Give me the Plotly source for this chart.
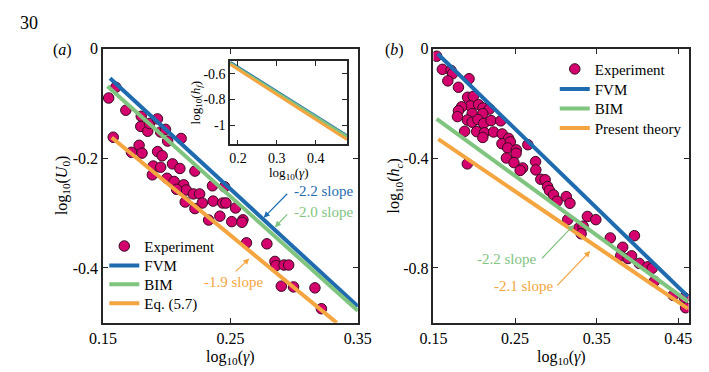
import plotly.graph_objects as go

# ---------------- data: panel (a) ----------------
a_exp_x = [0.1544, 0.1600, 0.1679, 0.1580, 0.1800, 0.1796, 0.1851, 0.1864, 0.1927, 0.1952,
           0.1990, 0.2007, 0.2113, 0.1783, 0.1723, 0.1806, 0.1928, 0.1964, 0.1894, 0.1952,
           0.2045, 0.2103, 0.2221, 0.1887, 0.2002, 0.2058, 0.2133, 0.2153, 0.2077, 0.2209,
           0.2258, 0.2359, 0.2454, 0.2364, 0.2439, 0.2465, 0.2279, 0.2145, 0.2221, 0.2540,
           0.2417, 0.2329, 0.2510, 0.2598, 0.2590, 0.2626, 0.2786, 0.2849, 0.2857, 0.2920,
           0.2957, 0.2899, 0.2995, 0.3163, 0.3214]
a_exp_y = [-0.0898, -0.0702, -0.1121, -0.1613, -0.1232, -0.1416, -0.1505, -0.1363, -0.1279, -0.1518,
           -0.1470, -0.1684, -0.1636, -0.1761, -0.1889, -0.1904, -0.1875, -0.1952, -0.2139, -0.2161,
           -0.2100, -0.2184, -0.2232, -0.2300, -0.2363, -0.2421, -0.2482, -0.2577, -0.2564, -0.2648,
           -0.2648, -0.2500, -0.2518, -0.2779, -0.2814, -0.2814, -0.2814, -0.2796, -0.2916, -0.2904,
           -0.3054, -0.3125, -0.3154, -0.3121, -0.3166, -0.3541, -0.3559, -0.3880, -0.3957, -0.3946,
           -0.3946, -0.4332, -0.4345, -0.4363, -0.4743]
a_fvm_x = [0.1555, 0.350]
a_fvm_y = [-0.0536, -0.470]
a_bim_x = [0.1535, 0.350]
a_bim_y = [-0.0684, -0.478]
a_eq_x = [0.1568, 0.3334]
a_eq_y = [-0.1618, -0.500]

# inset of panel (a)
in_x = [0.18, 0.48]
in_fvm = [-0.512, -1.083]
in_bim = [-0.518, -1.090]
in_eq = [-0.527, -1.112]

# ---------------- data: panel (b) ----------------
b_exp_x = [0.1539, 0.1609, 0.1715, 0.1733, 0.1676, 0.1936, 0.1806, 0.1918, 0.1989, 0.1951,
           0.1845, 0.1806, 0.1794, 0.2053, 0.2107, 0.2186, 0.1974, 0.2104, 0.1915, 0.1974,
           0.2045, 0.2115, 0.2206, 0.2324, 0.1882, 0.2029, 0.2124, 0.2104, 0.2236, 0.2342,
           0.2421, 0.2339, 0.2442, 0.2656, 0.2409, 0.2515, 0.2394, 0.2512, 0.2486, 0.2751,
           0.2592, 0.2562, 0.2754, 0.2815, 0.2868, 0.2898, 0.2921, 0.2971, 0.3015, 0.3127,
           0.3172, 0.3145, 0.3386, 0.3489, 0.3284, 0.3333, 0.3309, 0.3666, 0.3962, 0.3818,
           0.3794, 0.3884, 0.3927, 0.4021, 0.4124, 0.4180, 0.4206, 0.4436, 0.4574, 0.4589,
           0.1915]
b_exp_y = [-0.0271, -0.0750, -0.0789, -0.0911, -0.1171, -0.1093, -0.1404, -0.1768, -0.1736, -0.2082,
           -0.2118, -0.2261, -0.2475, -0.2039, -0.2161, -0.2200, -0.2368, -0.2368, -0.2600, -0.2679,
           -0.2582, -0.2725, -0.2618, -0.2629, -0.3011, -0.3021, -0.3064, -0.3236, -0.3036, -0.3107,
           -0.3271, -0.3464, -0.3396, -0.3500, -0.3618, -0.3689, -0.3986, -0.3814, -0.4154, -0.4118,
           -0.4350, -0.4439, -0.4421, -0.4761, -0.4779, -0.5029, -0.5171, -0.5332, -0.5564, -0.5393,
           -0.5636, -0.6236, -0.6118, -0.6236, -0.6529, -0.6475, -0.6750, -0.6904, -0.6821, -0.7243,
           -0.7557, -0.7654, -0.7557, -0.7832, -0.7957, -0.8011, -0.8486, -0.9000, -0.9082, -0.9450,
           -0.4200]
b_fvm_x = [0.1551, 0.4618]
b_fvm_y = [-0.0179, -0.9046]
b_bim_x = [0.1539, 0.4618]
b_bim_y = [-0.2557, -0.9225]
b_eq_x = [0.1559, 0.4618]
b_eq_y = [-0.3296, -0.9486]

# tick labels
a_xticks = [0.15, 0.25, 0.35]
a_yticks = [0, -0.2, -0.4]
b_xticks = [0.15, 0.25, 0.35, 0.45]
b_yticks = [0, -0.4, -0.8]
in_xticks = [0.2, 0.3, 0.4]
in_yticks = [-0.6, -0.8, -1]

# ---------------- style ----------------
FONT = "Liberation Serif"
MAG = "#d4006e"
BLUE = "#1f6bb0"
GREEN = "#7fc47f"
ORANGE = "#f5a540"
AX = "#262626"
W, H = 709, 372


def px_x(p):
    return p / W


def px_y(p):
    return 1 - p / H


def tick_text(vals):
    return ["%g" % v for v in vals]


fig = go.Figure()

exp_marker = dict(size=10.5, color=MAG, line=dict(color="#3a0a20", width=1))

# panel a
fig.add_trace(go.Scatter(x=a_exp_x, y=a_exp_y, mode="markers", marker=exp_marker,
                         name="Experiment", legend="legend", xaxis="x", yaxis="y"))
fig.add_trace(go.Scatter(x=a_fvm_x, y=a_fvm_y, mode="lines", line=dict(color=BLUE, width=4),
                         name="FVM", legend="legend2", xaxis="x", yaxis="y"))
fig.add_trace(go.Scatter(x=a_bim_x, y=a_bim_y, mode="lines", line=dict(color=GREEN, width=4),
                         name="BIM", legend="legend3", xaxis="x", yaxis="y"))
fig.add_trace(go.Scatter(x=a_eq_x, y=a_eq_y, mode="lines", line=dict(color=ORANGE, width=4),
                         name="Eq. (5.7)", legend="legend4", xaxis="x", yaxis="y"))

# inset
fig.add_trace(go.Scatter(x=in_x, y=in_fvm, mode="lines", line=dict(color=BLUE, width=3),
                         showlegend=False, xaxis="x3", yaxis="y3"))
fig.add_trace(go.Scatter(x=in_x, y=in_bim, mode="lines", line=dict(color=GREEN, width=3),
                         showlegend=False, xaxis="x3", yaxis="y3"))
fig.add_trace(go.Scatter(x=in_x, y=in_eq, mode="lines", line=dict(color=ORANGE, width=3),
                         showlegend=False, xaxis="x3", yaxis="y3"))

# panel b
fig.add_trace(go.Scatter(x=b_exp_x, y=b_exp_y, mode="markers", marker=exp_marker,
                         name="Experiment", legend="legend5", xaxis="x2", yaxis="y2"))
fig.add_trace(go.Scatter(x=b_fvm_x, y=b_fvm_y, mode="lines", line=dict(color=BLUE, width=4),
                         name="FVM", legend="legend6", xaxis="x2", yaxis="y2"))
fig.add_trace(go.Scatter(x=b_bim_x, y=b_bim_y, mode="lines", line=dict(color=GREEN, width=4),
                         name="BIM", legend="legend7", xaxis="x2", yaxis="y2"))
fig.add_trace(go.Scatter(x=b_eq_x, y=b_eq_y, mode="lines", line=dict(color=ORANGE, width=4),
                         name="Present theory", legend="legend8", xaxis="x2", yaxis="y2"))


def axis_common(size=16):
    return dict(showgrid=False, zeroline=False, showline=True, linecolor=AX, linewidth=1.5,
                mirror="ticks", ticks="inside", ticklen=5, tickwidth=1.2, tickcolor=AX,
                tickfont=dict(family=FONT, size=size, color="black"))


def leg(xpx, ypx):
    return dict(x=px_x(xpx), y=px_y(ypx), xanchor="left", yanchor="middle",
                bgcolor="rgba(0,0,0,0)", itemwidth=30,
                font=dict(family=FONT, size=15, color="black"))


fig.update_layout(
    width=W, height=H, margin=dict(l=0, r=0, t=0, b=0),
    paper_bgcolor="white", plot_bgcolor="white",
    font=dict(family=FONT, color="black"),
    xaxis=dict(domain=[px_x(92.7), px_x(358)], range=[0.15, 0.35], anchor="y",
               tickvals=a_xticks, ticktext=tick_text(a_xticks), **axis_common()),
    yaxis=dict(domain=[px_y(321.7), px_y(41.7)], range=[-0.5, 0], anchor="x",
               tickvals=a_yticks, ticktext=tick_text(a_yticks), **axis_common()),
    xaxis2=dict(domain=[px_x(436.7), px_x(702.3)], range=[0.15, 0.4625], anchor="y2",
                tickvals=b_xticks, ticktext=tick_text(b_xticks), **axis_common()),
    yaxis2=dict(domain=[px_y(321.7), px_y(41.7)], range=[-1.0, 0], anchor="x2",
                tickvals=b_yticks, ticktext=tick_text(b_yticks), **axis_common()),
    xaxis3=dict(domain=[px_x(225), px_x(346.7)], range=[0.18, 0.48], anchor="y3",
                tickvals=in_xticks, ticktext=tick_text(in_xticks), **axis_common(14)),
    yaxis3=dict(domain=[px_y(139.3), px_y(54)], range=[-1.15, -0.5], anchor="x3",
                tickvals=in_yticks, ticktext=tick_text(in_yticks), **axis_common(14)),
    legend=leg(94, 243.5),
    legend2=leg(94, 263.5),
    legend3=leg(94, 282.5),
    legend4=leg(94, 302),
    legend5=leg(563, 62.5),
    legend6=leg(563, 83),
    legend7=leg(563, 103),
    legend8=leg(563, 123),
)

ann = []


def txt(x, y, text, size=15, color="black", xanchor="center", yanchor="middle", angle=0):
    ann.append(dict(x=px_x(x), y=px_y(y), xref="paper", yref="paper", text=text,
                    showarrow=False, xanchor=xanchor, yanchor=yanchor, textangle=angle,
                    font=dict(family=FONT, size=size, color=color)))


txt(16, 15, "30", size=18)
txt(51, 43, "(<i>a</i>)", size=16)
txt(396, 43, "(<i>b</i>)", size=16)
txt(50, 182, "log<sub>10</sub>(<i>U</i><sub>0</sub>)", size=16, angle=-90)
txt(396, 182, "log<sub>10</sub>(<i>h<sub>c</sub></i>)", size=16, angle=-90)
txt(225, 357, "log<sub>10</sub>(<i>γ</i>)", size=16)
txt(569.5, 357, "log<sub>10</sub>(<i>γ</i>)", size=16)
txt(190, 97, "log<sub>10</sub>(<i>h<sub>f</sub></i>)", size=13, angle=-90)
txt(286, 169.5, "log<sub>10</sub>(<i>γ</i>)", size=13)


def data_text(xr, yr, x, y, text, color, xanchor="left"):
    ann.append(dict(x=x, y=y, xref=xr, yref=yr, text=text, showarrow=False,
                    xanchor=xanchor, yanchor="middle",
                    font=dict(family=FONT, size=15, color=color)))


def arrow(xr, yr, x0, y0, x1, y1, color):
    ann.append(dict(x=x1, y=y1, ax=x0, ay=y0, xref=xr, yref=yr, axref=xr, ayref=yr,
                    text="", showarrow=True, arrowhead=2, arrowsize=1, arrowwidth=1.2,
                    arrowcolor=color))


# panel a slope notes
data_text("x", "y", 0.2985, -0.2589, "-2.2 slope", BLUE)
data_text("x", "y", 0.2985, -0.2975, "-2.0 slope", GREEN)
data_text("x", "y", 0.2529, -0.4255, "-1.9 slope", ORANGE, xanchor="center")
arrow("x", "y", 0.2957, -0.2618, 0.2761, -0.3082, BLUE)
arrow("x", "y", 0.2957, -0.2993, 0.2849, -0.3255, GREEN)
arrow("x", "y", 0.2530, -0.4089, 0.2648, -0.3827, ORANGE)

# panel b slope notes
data_text("x2", "y2", 0.2398, -0.7654, "-2.2 slope", GREEN, xanchor="center")
data_text("x2", "y2", 0.2609, -0.8654, "-2.1 slope", ORANGE, xanchor="center")
arrow("x2", "y2", 0.2813, -0.7700, 0.3218, -0.6429, GREEN)
arrow("x2", "y2", 0.3000, -0.8689, 0.3421, -0.7379, ORANGE)

fig.update_layout(annotations=ann)
fig.write_html("out.html")
